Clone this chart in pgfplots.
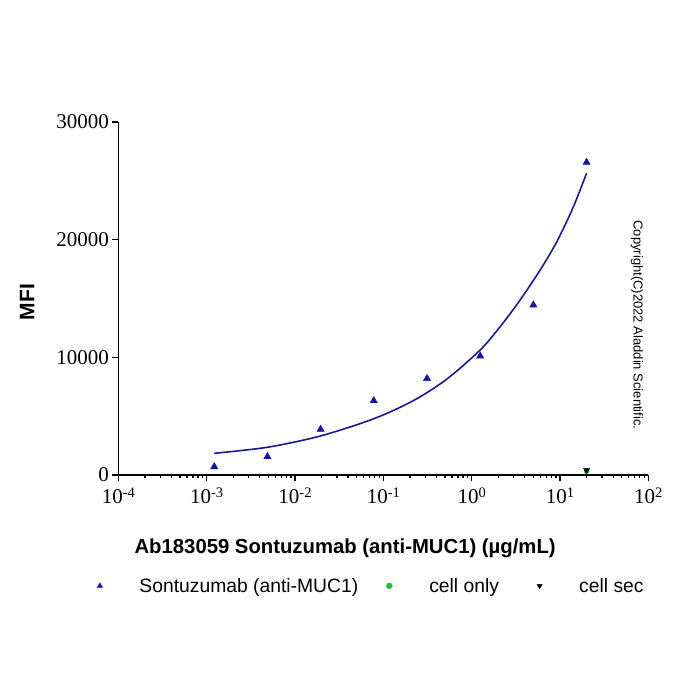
\documentclass[border=0pt]{standalone}
\usepackage{fontspec}
\setmainfont{Liberation Serif}
\newfontfamily\arial{Liberation Sans}
\usepackage{pgfplots}
\pgfplotsset{compat=1.18}
\definecolor{ptblue}{RGB}{22,22,160}
\definecolor{curveblue}{RGB}{26,26,140}
\definecolor{ptgreen}{RGB}{40,190,60}
\newcommand\sups[1]{\raisebox{0.62ex}{\fontsize{14.5}{15}\selectfont #1}}
\begin{document}
\begin{tikzpicture}[x=1pt,y=1pt]
\useasboundingbox (0,0) rectangle (700,700);
\begin{axis}[
  at={(118.3pt,225pt)}, anchor=south west,
  scale only axis, width=530pt, height=353pt,
  xmode=log, xmin=1e-4, xmax=1e2, ymin=0, ymax=30000,
  axis x line*=bottom, axis y line*=left,
  tick align=outside, major tick length=6pt, minor tick length=3.5pt,
  xtick={1e-4,1e-3,1e-2,1e-1,1,10,100},
  xticklabels={10\sups{-4},10\sups{-3},10\sups{-2},10\sups{-1},10\sups{0},10\sups{1},10\sups{2}},
  ytick={0,10000,20000,30000},
  yticklabels={0,10000,20000,30000},
  scaled y ticks=false,
  minor y tick num=0,
  tick label style={font=\fontsize{21}{24}\selectfont},
  xticklabel style={yshift=-3pt},
  axis line style={line width=1.3pt},
  every tick/.style={line width=1.3pt, black},
  clip=false,
  xlabel={Ab183059 Sontuzumab (anti-MUC1) (µg/mL)},
  xlabel style={font=\arial\bfseries\fontsize{20.3}{24}\selectfont, at={(axis description cs:0.428,-0.207)}, anchor=center},
  ylabel={MFI},
  ylabel style={font=\arial\bfseries\fontsize{21}{24}\selectfont, at={(axis description cs:-0.172,0.49)}, anchor=center},
  legend columns=3,
  legend style={draw=none, fill=none, inner sep=0pt, at={(axis description cs:-0.04,-0.314)}, anchor=west,
    font=\arial\fontsize{19.3}{22}\selectfont,
    nodes={inner sep=0pt},
    /tikz/column 1/.style={column sep=37pt},
    /tikz/column 2/.style={column sep=28pt},
    /tikz/column 3/.style={column sep=37pt},
    /tikz/column 4/.style={column sep=38pt},
    /tikz/column 5/.style={column sep=37pt}},
  legend image code/.code={\draw[#1,mark size=3pt] plot coordinates {(0pt,0pt)};},
]
\addplot[curveblue, line width=1.6pt, smooth, forget plot] coordinates {
(0.00122,1845) (0.0049,2360) (0.0195,3320) (0.078,4780) (0.22,6330) (0.524,8150)
(1.25,10625) (2.1,12600) (3.54,14875) (5.97,17425) (9.22,19830) (14.2,22800) (20,25645)};
\addplot[only marks, mark=triangle*, mark size=4.2pt, color=ptblue] coordinates {
(0.00122,705) (0.00488,1558) (0.0195,3884) (0.078,6317) (0.3125,8200) (1.25,10115) (5,14450) (20,26575)};
\addlegendentry{Sontuzumab (anti-MUC1)}
\addplot[only marks, mark=*, mark size=2.6pt, color=ptgreen] coordinates {(20,330)};
\addlegendentry{cell only}
\addplot[only marks, mark=triangle*, mark size=3.6pt, mark options={rotate=180}, color=black] coordinates {(20,420)};
\addlegendentry{cell sec}
\end{axis}
\node[rotate=-90, font=\arial\fontsize{13}{15}\selectfont, anchor=center] at (637,375) {Copyright(C)2022 Aladdin Scientific.};
\end{tikzpicture}
\end{document}
